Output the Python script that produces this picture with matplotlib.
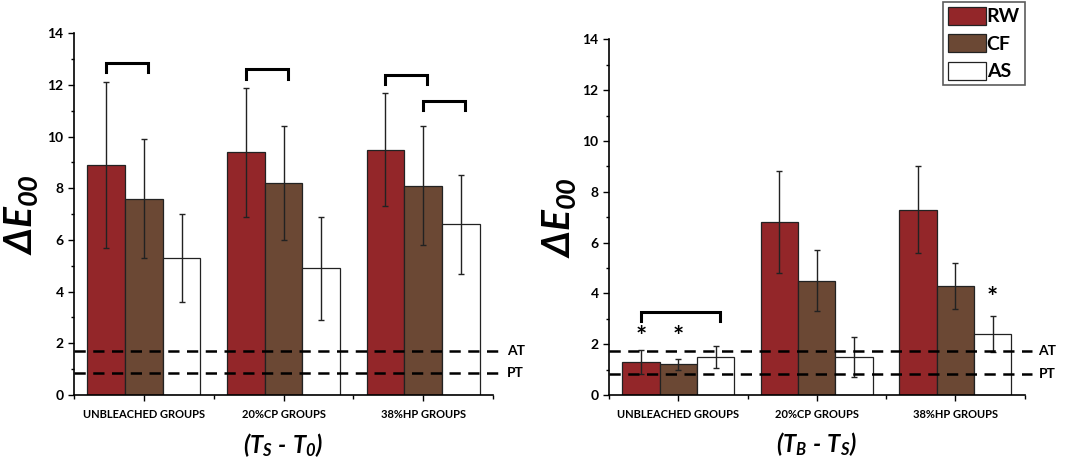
import matplotlib
matplotlib.use("Agg")
import matplotlib.pyplot as plt
import numpy as np
from matplotlib.patches import Patch

plt.rcParams["font.family"] = ["Lato", "DejaVu Sans"]
plt.rcParams["font.weight"] = "bold"
plt.rcParams["mathtext.fontset"] = "custom"
plt.rcParams["mathtext.rm"] = "Lato:italic:bold"
plt.rcParams["mathtext.it"] = "Lato:italic:bold"
plt.rcParams["mathtext.bf"] = "Lato:italic:bold"

groups = ["UNBLEACHED GROUPS", "20%CP GROUPS", "38%HP GROUPS"]
series = ["RW", "CF", "AS"]
colors = ["#932629", "#6b4834", "#ffffff"]

# left panel: (Ts - T0)
left_vals = {
    "RW": [8.9, 9.4, 9.5],
    "CF": [7.6, 8.2, 8.1],
    "AS": [5.3, 4.9, 6.6],
}
left_err = {
    "RW": [3.2, 2.5, 2.2],
    "CF": [2.3, 2.2, 2.3],
    "AS": [1.7, 2.0, 1.9],
}

# right panel: (TB - Ts)
right_vals = {
    "RW": [1.3, 6.8, 7.3],
    "CF": [1.2, 4.5, 4.3],
    "AS": [1.5, 1.5, 2.4],
}
right_err = {
    "RW": [0.47, 2.0, 1.7],
    "CF": [0.2, 1.2, 0.9],
    "AS": [0.42, 0.8, 0.7],
}

AT = 1.72
PT = 0.84

# brackets: (group, first bar, last bar, top value, leg length)
left_brackets = [(0, 0, 1, 12.85, 0.33), (1, 0, 1, 12.6, 0.35),
                 (2, 0, 1, 12.4, 0.36), (2, 1, 2, 11.37, 0.35)]
right_brackets = [(0, 0, 2, 3.27, 0.34)]
# asterisks: (group, bar, value)
right_stars = [(0, 0, 2.3), (0, 1, 2.3), (2, 2, 3.8)]

width = 0.27
offsets = [-width, 0, width]


def draw_panel(ax, vals, errs, xlabel, brackets, stars, ylab_x):
    x = np.arange(len(groups))
    for i, s in enumerate(series):
        ax.bar(x + offsets[i], vals[s], width, color=colors[i],
               edgecolor="#222222", linewidth=0.9, zorder=2)
        ax.errorbar(x + offsets[i], vals[s], yerr=errs[s], fmt="none",
                    ecolor="#222222", elinewidth=1.0, capsize=2.5,
                    capthick=1.0, zorder=3)
    for y in (AT, PT):
        ax.plot([-0.5, 2.55], [y, y], color="black", lw=1.8,
                dashes=(4.5, 3), clip_on=False, zorder=4)
    ax.text(2.6, AT, "AT", ha="left", va="center", fontsize=10,
            fontweight="bold", clip_on=False)
    ax.text(2.6, PT, "PT", ha="left", va="center", fontsize=10,
            fontweight="bold", clip_on=False)
    for g, b0, b1, top, leg in brackets:
        x0 = g + offsets[b0]
        x1 = g + offsets[b1] + 0.03
        ax.plot([x0, x0, x1, x1], [top - leg, top, top, top - leg],
                color="black", lw=2.2, zorder=4, solid_joinstyle="miter")
    for g, b, v in stars:
        ax.text(g + offsets[b], v, "*", ha="center", va="center",
                fontsize=19, fontweight="bold")

    ax.set_xlim(-0.5, 2.5)
    ax.set_ylim(0, 14)
    ax.set_xticks(x)
    ax.set_xticklabels(groups, fontsize=8, fontweight="bold")
    ax.set_xticks([-0.5, 0.5, 1.5, 2.5], minor=True)
    ax.set_yticks(np.arange(0, 15, 2))
    ax.set_yticks(np.arange(1, 14, 2), minor=True)
    ax.tick_params(axis="y", labelsize=10, direction="out", length=4, width=1)
    ax.tick_params(axis="y", which="minor", length=2.5, width=1)
    ax.tick_params(axis="x", direction="out", length=4, width=1, pad=6)
    ax.tick_params(axis="x", which="minor", length=3, width=1)
    for lab in ax.get_yticklabels():
        lab.set_fontweight("bold")
    ax.spines["top"].set_visible(False)
    ax.spines["right"].set_visible(False)
    ax.spines["left"].set_linewidth(1.2)
    ax.spines["bottom"].set_linewidth(1.2)
    ax.set_ylabel(r"$\Delta E_{00}$", fontsize=28)
    ax.yaxis.set_label_coords(ylab_x, 0.5)
    ax.set_xlabel(xlabel, fontsize=17)
    ax.xaxis.set_label_coords(0.5, -0.1)


fig = plt.figure(figsize=(10.74, 4.63), dpi=100)
ax1 = fig.add_axes([0.069, 0.147, 0.390, 0.781])
ax2 = fig.add_axes([0.567, 0.147, 0.387, 0.768])

draw_panel(ax1, left_vals, left_err,
           r"$(T_S\ \text{-}\ T_0)$", left_brackets, [], -0.082)
draw_panel(ax2, right_vals, right_err,
           r"$(T_B\ \text{-}\ T_S)$", right_brackets, right_stars, -0.075)

handles = [Patch(facecolor=c, edgecolor="#222222", linewidth=0.9) for c in colors]
leg = fig.legend(handles, series, loc="upper right",
                 bbox_to_anchor=(0.954, 0.996), fontsize=14,
                 frameon=True, fancybox=False, edgecolor="#333333",
                 handlelength=1.95, handleheight=1.05, handletextpad=0.05,
                 labelspacing=0.45, borderpad=0.25, borderaxespad=0.0)
leg.get_frame().set_linewidth(1.2)
for t in leg.get_texts():
    t.set_fontweight("bold")

fig.savefig("out.png", dpi=100)
